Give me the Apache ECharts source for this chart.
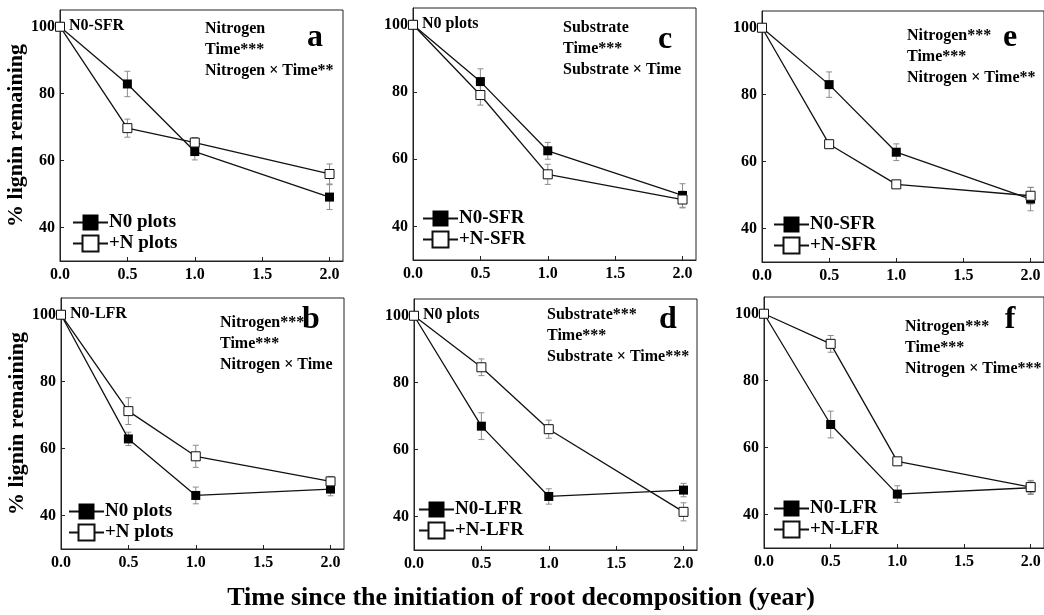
<!DOCTYPE html>
<html>
<head>
<meta charset="utf-8">
<script src="https://cdn.jsdelivr.net/npm/echarts@6/dist/echarts.min.js"></script>
<style>
  html, body { margin: 0; padding: 0; background: #fff; }
  #chart { width: 1044px; height: 615px; }
</style>
</head>
<body>
<div id="chart"></div>
<script>
// sampling times (year)
const times = [0, 0.5, 1, 2];
const xTicks = [0, 0.5, 1, 1.5, 2];
const yTicks = [40, 60, 80, 100];

// panel a - SFR, N0 vs +N plots
const aN0 = [100, 82.9, 62.7, 49.1];
const aN0Err = [0, 3.8, 2.5, 3.7];
const aN = [100, 69.7, 65.4, 56.0];
const aNErr = [0, 2.7, 1.5, 3.0];
// panel b - LFR, N0 vs +N plots
const bN0 = [100, 62.9, 46.0, 47.9];
const bN0Err = [0, 2.0, 2.5, 2.0];
const bN = [100, 71.2, 57.7, 50.2];
const bNErr = [0, 4.0, 3.3, 1.5];
// panel c - N0 plots, SFR
const cN0 = [100, 83.1, 62.5, 49.2];
const cN0Err = [0, 3.8, 2.5, 3.5];
const cN = [100, 79.1, 55.5, 48.0];
const cNErr = [0, 3.0, 3.0, 2.5];
// panel d - N0 plots, LFR
const dN0 = [100, 67.0, 46.0, 47.9];
const dN0Err = [0, 4.0, 2.3, 2.0];
const dN = [100, 84.6, 66.1, 41.4];
const dNErr = [0, 2.5, 2.7, 2.7];
// panel e - SFR
const eN0 = [100, 83.0, 62.8, 48.8];
const eN0Err = [0, 3.8, 2.5, 3.5];
const eN = [100, 65.2, 53.2, 49.8];
const eNErr = [0, 1.0, 0.8, 2.5];
// panel f - LFR
const fN0 = [100, 66.9, 46.1, 48.0];
const fN0Err = [0, 4.0, 2.5, 2.0];
const fN = [100, 91.0, 55.9, 48.2];
const fNErr = [0, 2.5, 1.0, 2.0];

const FONT = '"Liberation Serif", "Times New Roman", serif';

let panels = [
    {grid: [60, 10, 283, 251], tag: 'N0-SFR', letter: 'a', names: ['N0 plots', '+N plots'],
        filled: aN0, filledErr: aN0Err, open: aN, openErr: aNErr, yName: true,
        stats: 'Nitrogen\nTime***\nNitrogen \u00d7 Time**', statsPos: [205, 19], letterPos: [315, 38], legendPos: [72, 213]},
    {grid: [61, 298, 283, 251], tag: 'N0-LFR', letter: 'b', names: ['N0 plots', '+N plots'],
        filled: bN0, filledErr: bN0Err, open: bN, openErr: bNErr, yName: true,
        stats: 'Nitrogen***\nTime***\nNitrogen \u00d7 Time', statsPos: [220, 313], letterPos: [311, 320], legendPos: [68, 502]},
    {grid: [413, 8, 283, 252], tag: 'N0 plots', letter: 'c', names: ['N0-SFR', '+N-SFR'],
        filled: cN0, filledErr: cN0Err, open: cN, openErr: cNErr,
        stats: 'Substrate\nTime***\nSubstrate \u00d7 Time', statsPos: [563, 18], letterPos: [665, 40], legendPos: [422, 209]},
    {grid: [414, 299, 283, 251], tag: 'N0 plots', letter: 'd', names: ['N0-LFR', '+N-LFR'],
        filled: dN0, filledErr: dN0Err, open: dN, openErr: dNErr,
        stats: 'Substrate***\nTime***\nSubstrate \u00d7 Time***', statsPos: [547, 305], letterPos: [668, 320], legendPos: [418, 500]},
    {grid: [762, 11, 283, 251], tag: '', letter: 'e', names: ['N0-SFR', '+N-SFR'],
        filled: eN0, filledErr: eN0Err, open: eN, openErr: eNErr,
        stats: 'Nitrogen***\nTime***\nNitrogen \u00d7 Time**', statsPos: [907, 26], letterPos: [1010, 38], legendPos: [773, 215]},
    {grid: [764, 297, 283, 251], tag: '', letter: 'f', names: ['N0-LFR', '+N-LFR'],
        filled: fN0, filledErr: fN0Err, open: fN, openErr: fNErr,
        stats: 'Nitrogen***\nTime***\nNitrogen \u00d7 Time***', statsPos: [905, 317], letterPos: [1010, 320], legendPos: [773, 499]}
];

// vertical bar with caps, placed through the axis scales
function renderErrorBar(params, api) {
    let x = api.value(0);
    let lo = api.coord([x, api.value(1)]);
    let hi = api.coord([x, api.value(2)]);
    let w = 3;
    let style = {stroke: '#8c8c8c', lineWidth: 1};
    return {
        type: 'group',
        children: [
            {type: 'line', shape: {x1: lo[0], y1: lo[1], x2: hi[0], y2: hi[1]}, style: style},
            {type: 'line', shape: {x1: lo[0] - w, y1: lo[1], x2: lo[0] + w, y2: lo[1]}, style: style},
            {type: 'line', shape: {x1: hi[0] - w, y1: hi[1], x2: hi[0] + w, y2: hi[1]}, style: style}
        ]
    };
}

function errorData(values, errs) {
    let out = [];
    for (let i = 0; i < times.length; i++) {
        if (errs[i] > 0) out.push([times[i], values[i] - errs[i], values[i] + errs[i]]);
    }
    return out;
}

let grids = [], xAxes = [], yAxes = [], series = [], legends = [], texts = [];
let axisColor = '#222';
let labelStyle = {fontFamily: FONT, fontWeight: 'bold', fontSize: 16, color: '#000'};

panels.forEach(function (p, i) {
    grids.push({left: p.grid[0], top: p.grid[1], width: p.grid[2], height: p.grid[3],
        show: true, borderColor: axisColor, borderWidth: 1, backgroundColor: 'transparent'});

    xAxes.push({
        type: 'value', gridIndex: i, min: 0, max: 2.1, interval: 0.5,
        axisLine: {lineStyle: {color: axisColor, width: 1}},
        axisTick: {inside: true, length: 4, lineStyle: {color: axisColor}, customValues: xTicks},
        axisLabel: Object.assign({margin: 6, customValues: xTicks,
            formatter: function (v) { return v.toFixed(1); }}, labelStyle),
        splitLine: {show: false}
    });

    yAxes.push({
        type: 'value', gridIndex: i, min: 30, max: 105, interval: 10,
        name: p.yName ? '% lignin remaining' : '',
        nameLocation: 'middle', nameRotate: 90, nameGap: 32,
        nameTextStyle: {fontFamily: FONT, fontWeight: 'bold', fontSize: 22, color: '#000'},
        axisLine: {lineStyle: {color: axisColor, width: 1}},
        axisTick: {inside: true, length: 4, lineStyle: {color: axisColor}, customValues: yTicks},
        axisLabel: Object.assign({margin: 5, customValues: yTicks,
            formatter: function (v) { return yTicks.indexOf(v) >= 0 ? String(v) : ''; }}, labelStyle),
        splitLine: {show: false}
    });

    series.push({
        type: 'custom', xAxisIndex: i, yAxisIndex: i, z: 1, silent: true,
        renderItem: renderErrorBar, encode: {x: 0, y: [1, 2]},
        data: errorData(p.filled, p.filledErr).concat(errorData(p.open, p.openErr))
    });
    series.push({
        name: p.names[0], type: 'line', xAxisIndex: i, yAxisIndex: i, z: 2, clip: false,
        symbol: 'rect', symbolSize: 9, showSymbol: true,
        itemStyle: {color: '#000'},
        lineStyle: {color: '#111', width: 1.3},
        data: times.map(function (t, k) { return [t, p.filled[k]]; })
    });
    series.push({
        name: p.names[1], type: 'line', xAxisIndex: i, yAxisIndex: i, z: 3, clip: false,
        symbol: 'rect', symbolSize: 9, showSymbol: true,
        itemStyle: {color: '#fff', borderColor: '#111', borderWidth: 1},
        lineStyle: {color: '#111', width: 1.3},
        data: times.map(function (t, k) { return [t, p.open[k]]; })
    });

    legends.push({
        left: p.legendPos[0], top: p.legendPos[1], orient: 'vertical', padding: 0,
        itemWidth: 35, itemHeight: 20, itemGap: 2, selectedMode: false,
        data: p.names,
        textStyle: {fontFamily: FONT, fontWeight: 'bold', fontSize: 19, color: '#000', padding: [0, 0, 0, -4]}
    });

    if (p.tag) {
        texts.push({type: 'text', x: p.grid[0] + 9, y: p.grid[1] + 16, z: 10,
            style: {text: p.tag, font: 'bold 16px ' + FONT, fill: '#000', verticalAlign: 'middle'}});
    }
    texts.push({type: 'text', x: p.statsPos[0], y: p.statsPos[1], z: 10,
        style: {text: p.stats, font: 'bold 16px ' + FONT, fill: '#000', lineHeight: 20.7, verticalAlign: 'top'}});
    texts.push({type: 'text', x: p.letterPos[0], y: p.letterPos[1], z: 10,
        style: {text: p.letter, font: 'bold 32px ' + FONT, fill: '#000', align: 'center', verticalAlign: 'middle'}});
});

texts.push({type: 'text', x: 521, y: 598, z: 10,
    style: {text: 'Time since the initiation of root decomposition (year)', font: 'bold 26px ' + FONT,
        fill: '#000', align: 'center', verticalAlign: 'middle'}});

let myChart = echarts.init(document.getElementById('chart'), null, {renderer: 'canvas'});

let option = {
    backgroundColor: '#fff',
    animation: false,
    grid: grids,
    xAxis: xAxes,
    yAxis: yAxes,
    legend: legends,
    series: series,
    graphic: texts
};

myChart.setOption(option);
</script>
</body>
</html>
